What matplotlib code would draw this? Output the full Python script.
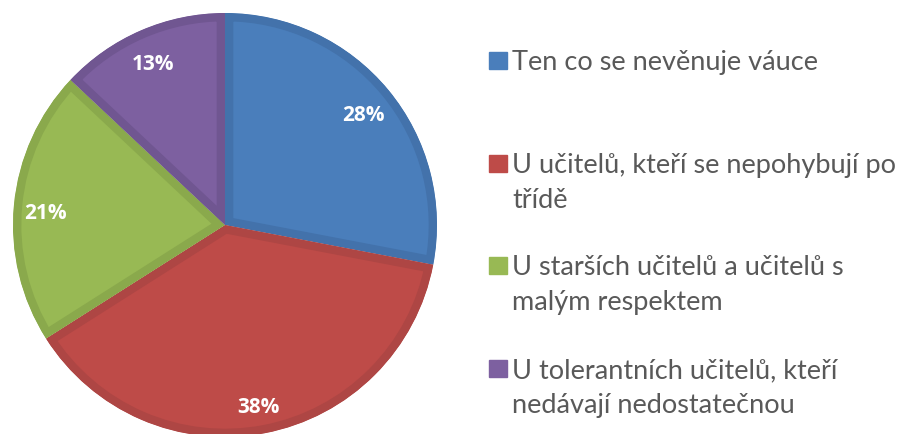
import matplotlib.pyplot as plt
from matplotlib.patches import Rectangle

labels = ['Ten co se nevěnuje váuce',
          'U učitelů, kteří se nepohybují po\ntřídě',
          'U starších učitelů a učitelů s\nmalým respektem',
          'U tolerantních učitelů, kteří\nnedávají nedostatečnou']
shares = [28, 38, 21, 13]
colors = ['#4A7EBB', '#BE4B48', '#98B954', '#7D60A0']
edges = ['#4372AB', '#AE4644', '#8AA94C', '#705691']

W, H = 902, 435
fig = plt.figure(figsize=(W / 100, H / 100), dpi=100)
R = 212
cx, cy = 225, 226
ax = fig.add_axes([(cx - R) / W, (H - cy - R) / H, 2 * R / W, 2 * R / H])

wedges, texts, autotexts = ax.pie(
    shares, colors=colors, startangle=90, counterclock=False,
    autopct='%d%%', pctdistance=0.85,
    textprops=dict(color='white', fontsize=15, fontweight='bold',
                   family='Open Sans'))
ax.set_xlim(-1, 1)
ax.set_ylim(-1, 1)
ax.set_aspect('auto')
for w, ec in zip(wedges, edges):
    w.set_edgecolor(ec)
    w.set_linewidth(12)
    # keep only the inner half of the stroke
    w.set_clip_on(True)
    w.set_clip_path(w.get_path(), w.get_transform())
for t in autotexts:
    x, y = t.get_position()
    t.set_position((x, y - 0.02))

# legend drawn by hand to keep Excel-like spacing
baselines = [70, 173, 275, 378]
for lab, c, y in zip(labels, colors, baselines):
    fig.patches.append(Rectangle((489 / W, (H - y) / H), 17.5 / W, 17.5 / H,
                                 transform=fig.transFigure, color=c))
    for i, line in enumerate(lab.split('\n')):
        fig.text(512 / W, (H - y - i * 35) / H, line, fontsize=19.5,
                 color='#595959', family='Lato', va='baseline', ha='left')

fig.savefig('out.png', dpi=100)
